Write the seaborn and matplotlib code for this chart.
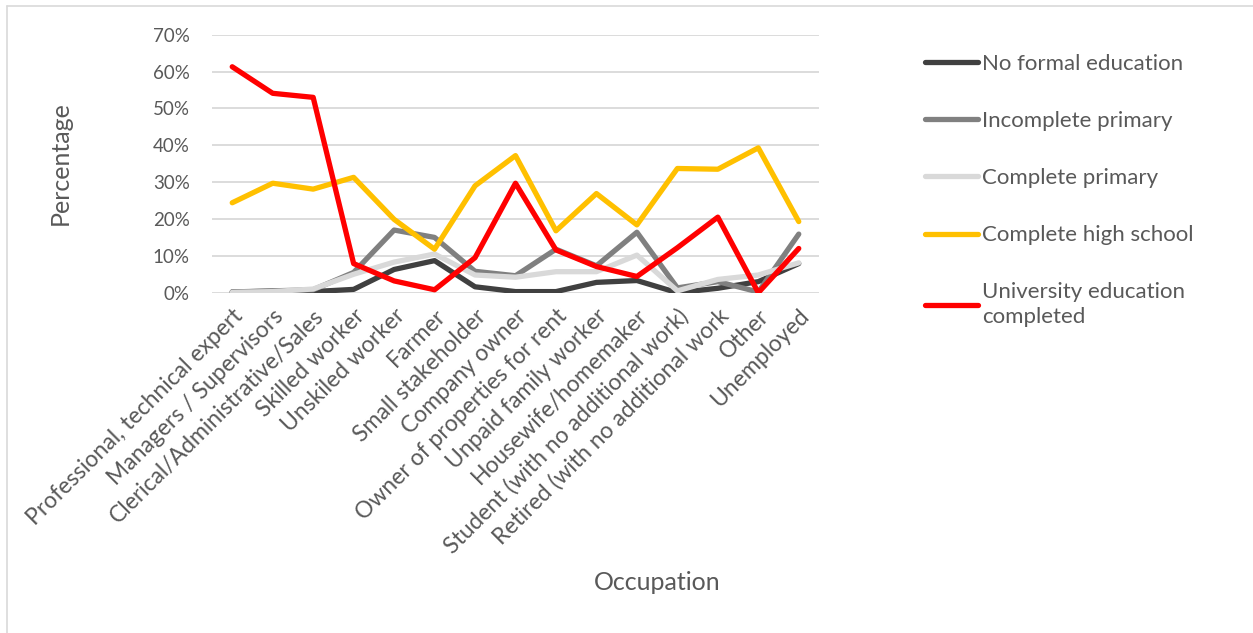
import matplotlib
matplotlib.use("Agg")
import matplotlib.pyplot as plt
from matplotlib.lines import Line2D
from matplotlib.ticker import PercentFormatter, FixedLocator
import seaborn as sns
import pandas as pd

categories = ["Professional, technical expert", "Managers / Supervisors",
              "Clerical/Administrative/Sales", "Skilled worker", "Unskiled worker",
              "Farmer", "Small stakeholder", "Company owner",
              "Owner of properties for rent", "Unpaid family worker",
              "Housewife/homemaker", "Student (with no additional work)",
              "Retired (with no additional work", "Other", "Unemployed"]

series_names = ["No formal education", "Incomplete primary", "Complete primary",
                "Complete high school", "University education\ncompleted"]

no_formal = [0.2, 0.4, 0.3, 0.9, 6.3, 8.7, 1.6, 0.3, 0.3, 2.8, 3.3, 0.0, 1.2, 3.0, 7.9]
incomplete_primary = [0.2, 0.5, 0.8, 5.5, 17.0, 15.0, 5.8, 4.6, 11.8, 7.3, 16.4, 1.3, 3.0, 0.2, 15.9]
complete_primary = [0.1, 0.3, 1.0, 5.0, 8.3, 10.5, 4.8, 4.2, 5.7, 5.7, 10.2, 0.5, 3.6, 4.8, 8.1]
high_school = [24.4, 29.7, 28.1, 31.3, 19.9, 11.8, 29.0, 37.2, 16.8, 26.9, 18.4, 33.7, 33.5, 39.3, 19.3]
university = [61.3, 54.1, 53.0, 7.9, 3.2, 0.8, 9.5, 29.7, 11.6, 7.1, 4.4, 12.2, 20.5, 0.0, 12.0]

colors = ["#404040", "#808080", "#D9D9D9", "#FFC000", "#FF0000"]

all_series = [no_formal, incomplete_primary, complete_primary, high_school, university]
rows = []
for name, vals in zip(series_names, all_series):
    for c, v in zip(categories, vals):
        rows.append({"Occupation": c, "Education": name, "Percentage": v})
df = pd.DataFrame(rows)

sns.set_theme(style="white")
plt.rcParams["font.family"] = ["Lato", "DejaVu Sans"]
text_color = "#595959"

fig = plt.figure(figsize=(12.53, 6.33), dpi=100)
W, H = 1253, 633
ax = fig.add_axes([212 / W, 1 - 292.7 / H, (819 - 212) / W, (292.7 - 34.7) / H])

lw = 3.8
sns.lineplot(data=df, x="Occupation", y="Percentage", hue="Education",
             hue_order=series_names, palette=colors, sort=False,
             linewidth=lw, ax=ax, legend=True,
             solid_capstyle="round", solid_joinstyle="round")

ax.set_xlim(-0.5, len(categories) - 0.5)
ax.set_ylim(0, 70)
ax.yaxis.set_major_locator(FixedLocator([0, 10, 20, 30, 40, 50, 60, 70]))
ax.yaxis.set_major_formatter(PercentFormatter(xmax=100, decimals=0))
ax.grid(axis="y", color="#D9D9D9", linewidth=1.3)
ax.set_axisbelow(True)
for s in ax.spines.values():
    s.set_visible(False)
ax.tick_params(axis="y", length=0, pad=16, labelsize=13.5, labelcolor=text_color)
ax.tick_params(axis="x", length=0, pad=9, labelsize=16.5, labelcolor=text_color)
ax.set_xticks(range(len(categories)))
ax.set_xticklabels(categories, rotation=45, ha="right", va="top", rotation_mode="anchor")
ax.set_xlabel("")
ax.set_ylabel("")

fig.text(60 / W, 1 - 163 / H, "Percentage", rotation=90, ha="center", va="center",
         fontsize=18, color=text_color)
fig.text(657 / W, 1 - 583 / H, "Occupation", ha="center", va="center",
         fontsize=18, color=text_color)

handles, labels = ax.get_legend_handles_labels()
leg = ax.legend(handles, labels, loc="upper left", bbox_to_anchor=(925 / W, 1 - 54 / H),
                bbox_transform=fig.transFigure, frameon=False, fontsize=16,
                handlelength=2.4, handletextpad=0.18, labelspacing=1.67, borderpad=0,
                borderaxespad=0, labelcolor=text_color)
for lh in leg.get_lines():
    lh.set_linewidth(lw)
for t in leg.get_texts():
    t.set_linespacing(1.3)

fig.add_artist(Line2D([7 / W, 7 / W], [0, 1 - 6 / H], transform=fig.transFigure,
                      color="#D9D9D9", linewidth=1.2))
fig.add_artist(Line2D([7 / W, 1], [1 - 6 / H, 1 - 6 / H], transform=fig.transFigure,
                      color="#D9D9D9", linewidth=1.2))

fig.savefig("out.png", dpi=100)
